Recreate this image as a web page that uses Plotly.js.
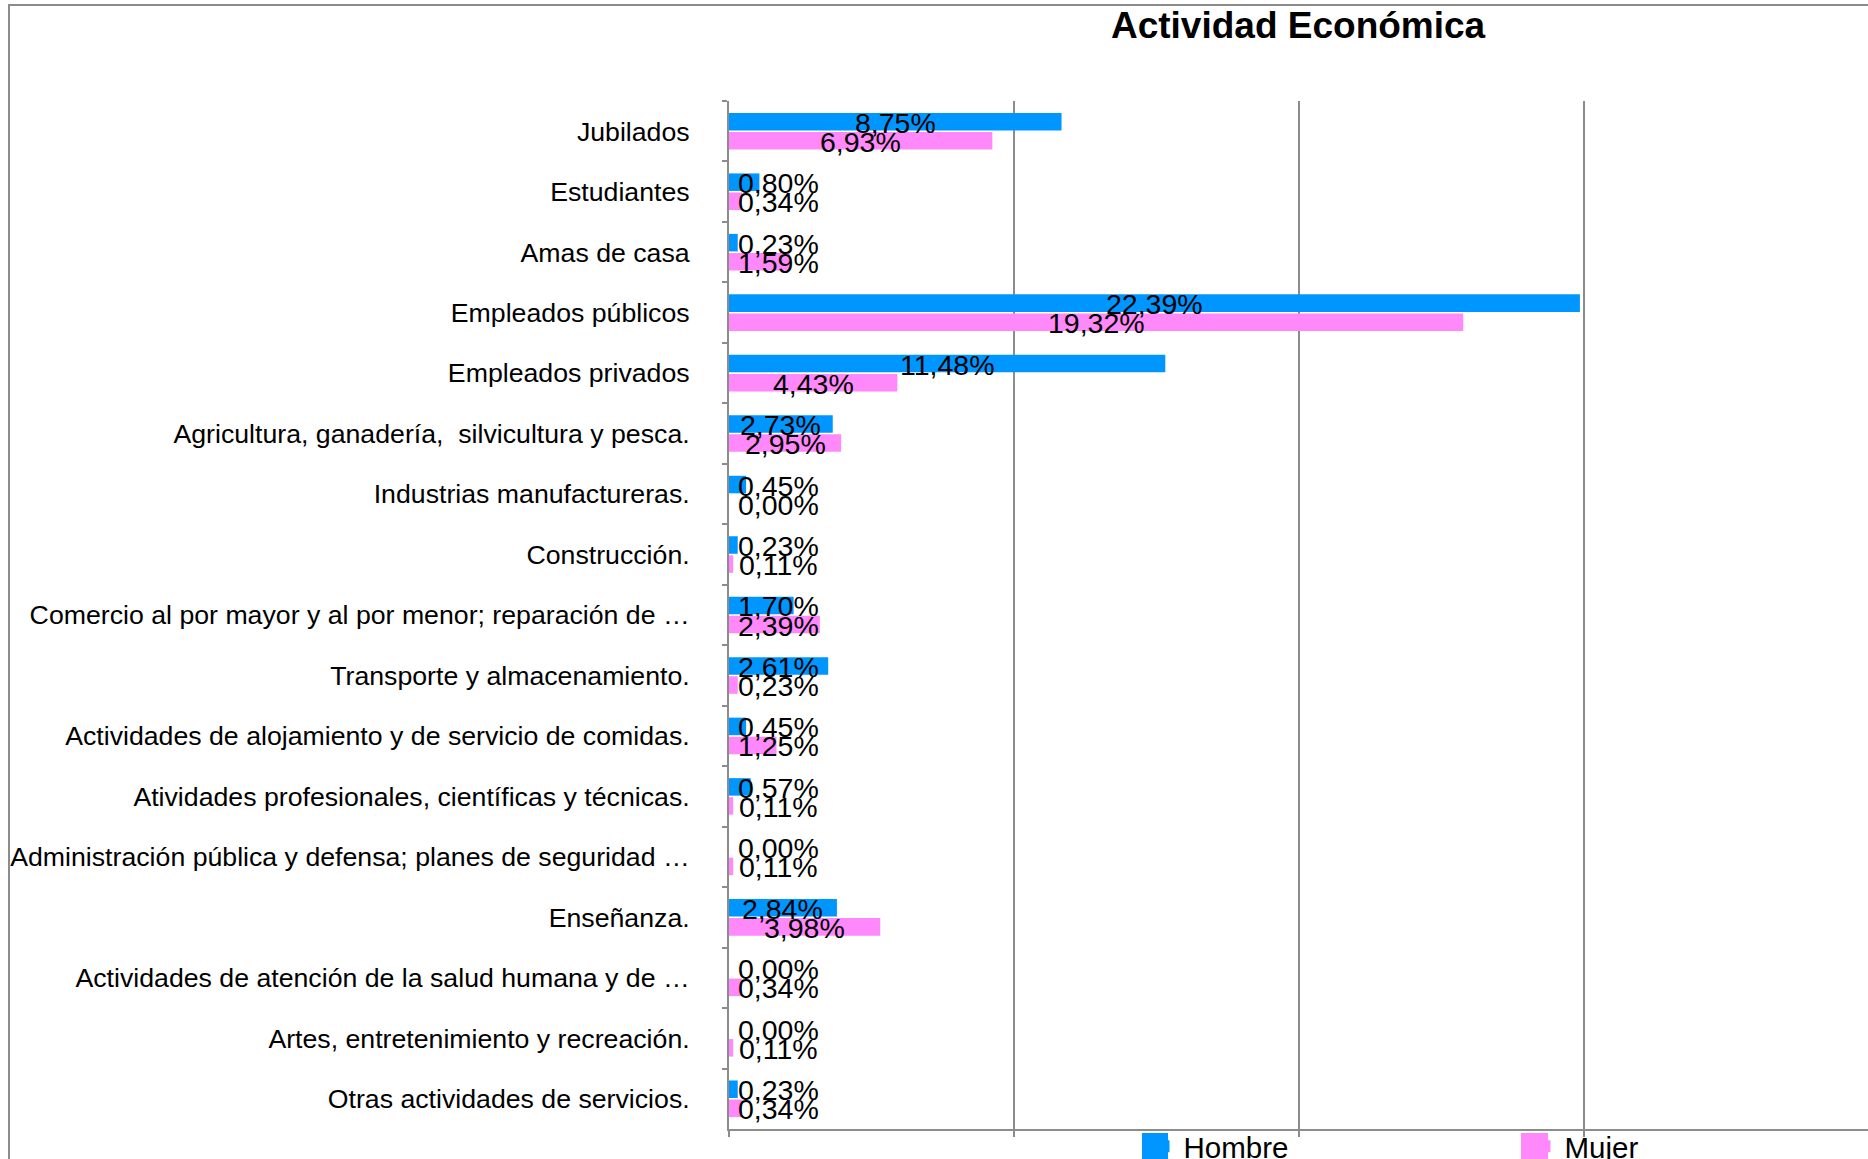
<!DOCTYPE html>
<html>
<head>
<meta charset="utf-8">
<script src="https://cdn.plot.ly/plotly-3.0.1.min.js"></script>
<style>
  html, body { margin: 0; padding: 0; background: #fff; overflow: hidden; }
  #chart { width: 1868px; height: 1159px; position: absolute; left: 0; top: 0; }
  #frame { position: absolute; left: 8px; top: 4px; width: 2000px; height: 1300px;
           border-left: 2px solid #8c8c8c; border-top: 2px solid #8c8c8c; pointer-events: none; }
</style>
</head>
<body>
<div id="chart"></div>
<div id="frame"></div>
<script>
const chartTitle = 'Actividad Económica';
const seriesNames = ['Hombre', 'Mujer'];
const categories = [
  'Jubilados',
  'Estudiantes',
  'Amas de casa',
  'Empleados públicos',
  'Empleados privados',
  'Agricultura, ganadería,\u00a0 silvicultura y pesca.',
  'Industrias manufactureras.',
  'Construcción.',
  'Comercio al por mayor y al por menor; reparación de …',
  'Transporte y almacenamiento.',
  'Actividades de alojamiento y de servicio de comidas.',
  'Atividades profesionales, científicas y técnicas.',
  'Administración pública y defensa; planes de seguridad …',
  'Enseñanza.',
  'Actividades de atención de la salud humana y de …',
  'Artes, entretenimiento y recreación.',
  'Otras actividades de servicios.'
];
const hombre = [8.75, 0.80, 0.23, 22.39, 11.48, 2.73, 0.45, 0.23, 1.70, 2.61, 0.45, 0.57, 0.00, 2.84, 0.00, 0.00, 0.23];
const mujer  = [6.93, 0.34, 1.59, 19.32, 4.43, 2.95, 0.00, 0.11, 2.39, 0.23, 1.25, 0.11, 0.11, 3.98, 0.34, 0.11, 0.34];

const colors = ['#0096ff', '#ff88fb'];
const FONT = 'Liberation Sans, Arial, sans-serif';
const bargap = 0.37, bargroupgap = 0.08;

// figure geometry
const W = 1868, H = 1159;
const M = { l: 729, r: 0, t: 101, b: 30 };
const plotW = W - M.l - M.r, plotH = H - M.t - M.b;
const paperX = px => (px - M.l) / plotW;
const paperY = py => (H - M.b - py) / plotH;

function fmt(v) { return v.toFixed(2).replace('.', ',') + '%'; }

const series = [hombre, mujer];
const traces = series.map((vals, s) => ({
  type: 'bar',
  orientation: 'h',
  name: seriesNames[s],
  y: categories,
  x: vals,
  marker: { color: colors[s], line: { width: 0 } },
  hoverinfo: 'x+name'
}));

// value labels centred on each bar (kept clear of the axis for short bars)
const minCenter = 1.29;
const off = (1 - bargap) / 4;
const annotations = [];
series.forEach((vals, s) => {
  vals.forEach((v, i) => {
    annotations.push({
      xref: 'x', yref: 'y',
      x: Math.max(v / 2, minCenter),
      y: i + (s === 0 ? -off : off),
      yshift: -1,
      text: fmt(v),
      showarrow: false,
      xanchor: 'center', yanchor: 'middle',
      font: { family: FONT, size: 28.5, color: '#000' }
    });
  });
});

// larger legend swatches (drawn under the legend's own icons, same colours)
const swatches = [[1142, 1168], [1521, 1548]].map((xs, s) => ({
  type: 'rect', xref: 'paper', yref: 'paper',
  x0: paperX(xs[0]), x1: paperX(xs[1]), y0: paperY(1133), y1: paperY(1170),
  fillcolor: colors[s], line: { width: 0 }, layer: 'above'
}));

const layout = {
  width: W, height: H,
  paper_bgcolor: '#fff', plot_bgcolor: '#fff',
  margin: { l: M.l, r: M.r, t: M.t, b: M.b, autoexpand: false },
  barmode: 'group', bargap: bargap, bargroupgap: bargroupgap,
  title: {
    text: chartTitle,
    font: { family: FONT, size: 37, weight: 'bold', color: '#000' },
    xref: 'container', yref: 'container',
    x: 0.6949, xanchor: 'center', y: 0.978, yanchor: 'middle'
  },
  xaxis: {
    range: [0, 29.97], tick0: 0, dtick: 7.5,
    showgrid: true, gridcolor: '#8c8c8c', gridwidth: 2,
    zeroline: false, showline: true, linecolor: '#8c8c8c', linewidth: 2,
    ticks: 'outside', ticklen: 6, tickwidth: 2, tickcolor: '#8c8c8c',
    showticklabels: false, fixedrange: true
  },
  yaxis: {
    type: 'category', autorange: 'reversed',
    showgrid: false, zeroline: false,
    showline: true, linecolor: '#8c8c8c', linewidth: 2,
    ticks: 'outside', tickson: 'boundaries', ticklen: 5, tickwidth: 2, tickcolor: '#8c8c8c',
    ticklabelstandoff: 32,
    tickfont: { family: FONT, size: 26.7, color: '#000' },
    fixedrange: true
  },
  showlegend: true,
  legend: {
    orientation: 'h', x: paperX(1143.5), xanchor: 'left', y: -0.017, yanchor: 'middle',
    font: { family: FONT, size: 29.5, color: '#000' },
    entrywidth: 336, entrywidthmode: 'pixels',
    bgcolor: 'rgba(0,0,0,0)', traceorder: 'normal'
  },
  shapes: swatches,
  annotations: annotations
};

Plotly.newPlot('chart', traces, layout, { displayModeBar: false, staticPlot: true });
</script>
</body>
</html>
